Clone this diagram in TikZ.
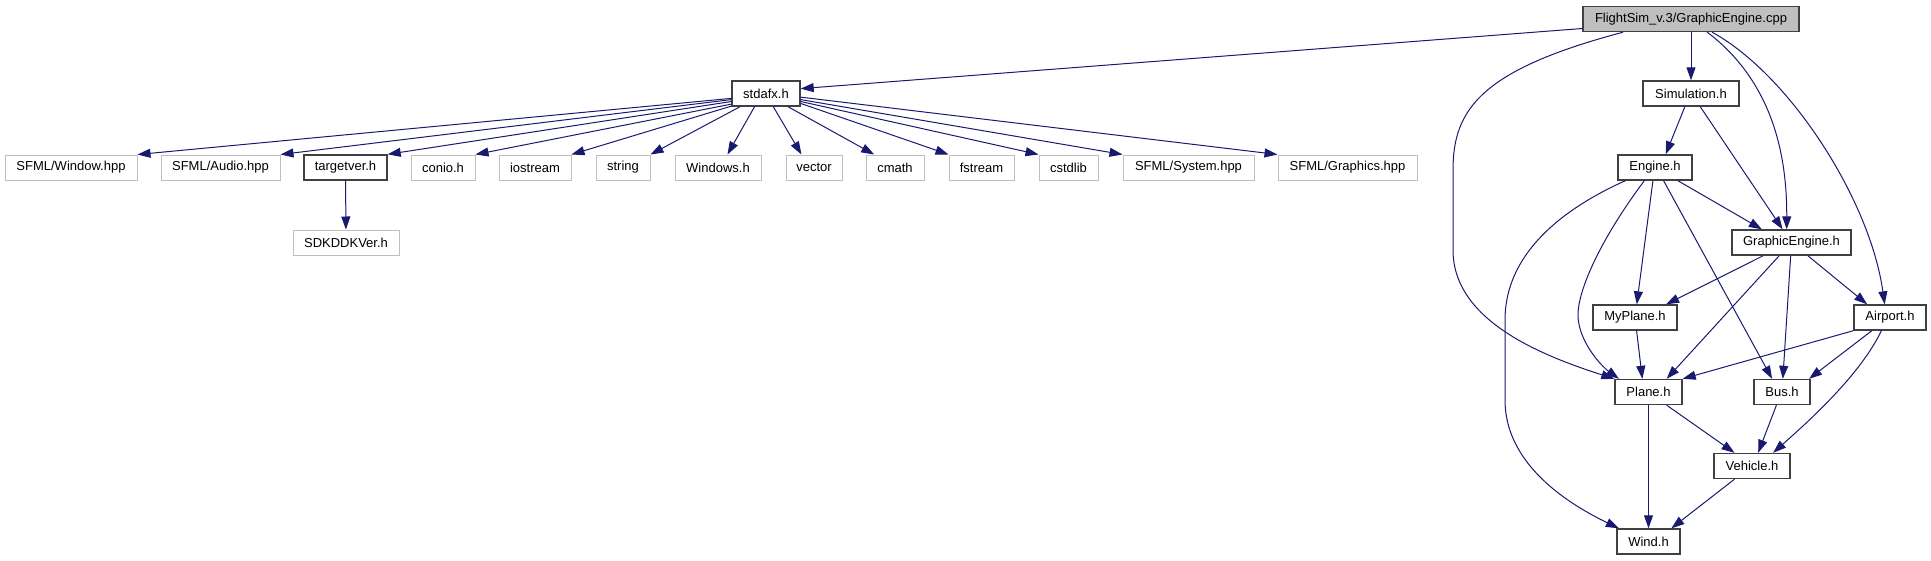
\documentclass[tikz,border=0pt]{standalone}
\usepackage{fontspec}
\setmainfont{Liberation Sans}
\usetikzlibrary{arrows.meta}

\definecolor{edgeblue}{HTML}{191970}
\definecolor{extgray}{HTML}{BFBFBF}
\definecolor{boxline}{HTML}{404040}

\tikzset{
  file/.style={draw=boxline, line width=1.4pt, inner sep=0pt, minimum height=25pt,
    font=\fontsize{13}{15}\selectfont},
  extfile/.style={file, draw=extgray, line width=1pt},
  mainfile/.style={file, fill=extgray},
  inc/.style={draw=edgeblue, line width=1pt, -{Triangle[length=13pt,width=9pt]}},
}

\begin{document}
\begin{tikzpicture}[x=1pt, y=-1pt]
    \useasboundingbox (0,0) rectangle (1931,560);

    % Source file
    \node[mainfile, minimum width=216pt] (cpp) at (1691,19) {FlightSim\_v.3/GraphicEngine.cpp};

    % stdafx and its includes
    \node[file, minimum width=68pt] (stdafx) at (766,93.5) {stdafx.h};
    \node[extfile, minimum width=132pt] (window) at (71,167.5) {SFML/Window.hpp};
    \node[extfile, minimum width=119pt] (audio) at (220.5,167.5) {SFML/Audio.hpp};
    \node[file, minimum width=83pt] (targetver) at (345.5,167.5) {targetver.h};
    \node[extfile, minimum width=64pt] (conio) at (443,167.5) {conio.h};
    \node[extfile, minimum width=72pt] (iostream) at (535,167.5) {iostream};
    \node[extfile, minimum width=54pt] (string) at (623,167.5) {string};
    \node[extfile, minimum width=86pt] (windows) at (718,167.5) {Windows.h};
    \node[extfile, minimum width=56pt] (vector) at (814,167.5) {vector};
    \node[extfile, minimum width=58pt] (cmath) at (895,167.5) {cmath};
    \node[extfile, minimum width=65pt] (fstream) at (981.5,167.5) {fstream};
    \node[extfile, minimum width=59pt] (cstdlib) at (1068.5,167.5) {cstdlib};
    \node[extfile, minimum width=131pt] (system) at (1188.5,167.5) {SFML/System.hpp};
    \node[extfile, minimum width=139pt] (graphics) at (1347.5,167.5) {SFML/Graphics.hpp};
    \node[extfile, minimum width=106pt] (sdk) at (346,242.5) {SDKDDKVer.h};

    % Project headers
    \node[file, minimum width=96pt] (simul) at (1691,93.5) {Simulation.h};
    \node[file, minimum width=74pt] (engine) at (1655,167.5) {Engine.h};
    \node[file, minimum width=119pt] (graphic) at (1791.5,242.5) {GraphicEngine.h};
    \node[file, minimum width=84pt] (myplane) at (1635,317.5) {MyPlane.h};
    \node[file, minimum width=72pt] (airport) at (1890,317.5) {Airport.h};
    \node[file, minimum width=67pt] (plane) at (1648.5,392) {Plane.h};
    \node[file, minimum width=56pt] (bus) at (1782,392) {Bus.h};
    \node[file, minimum width=76pt] (vehicle) at (1752,466) {Vehicle.h};
    \node[file, minimum width=63pt] (wind) at (1648.5,541.5) {Wind.h};

    % Includes of stdafx.h
    \draw[inc] (cpp.185) -- (stdafx.8);
    \draw[inc] (stdafx.188) -- (window.north east);
    \draw[inc] (stdafx.190) -- (audio.north east);
    \draw[inc] (stdafx.193) -- (targetver.north east);
    \draw[inc] (stdafx.197) -- (conio.north east);
    \draw[inc] (stdafx.200) -- (iostream.north east);
    \draw[inc] (stdafx.207) -- (string.north east);
    \draw[inc] (stdafx.229) -- (windows.54);
    \draw[inc] (stdafx.299) -- (vector.134);
    \draw[inc] (stdafx.329) -- (cmath.148);
    \draw[inc] (stdafx.344) -- (fstream.north west);
    \draw[inc] (stdafx.347) -- (cstdlib.north west);
    \draw[inc] (stdafx.350) -- (system.north west);
    \draw[inc] (stdafx.354) -- (graphics.north west);
    \draw[inc] (targetver) -- (sdk);

    % Project includes
    \draw[inc] (cpp) -- (simul);
    \draw[inc] (cpp.191) .. controls (1480,70) and (1453,110) .. (1453,170)
        -- (1453,250) .. controls (1453,320) and (1540,355) .. (plane.north west);
    \draw[inc] (cpp.321) .. controls (1770,80) and (1787,150) .. (graphic.110);
    \draw[inc] (cpp.328) .. controls (1790,75) and (1870,200) .. (airport.112);
    \draw[inc] (simul.245) -- (engine.51);
    \draw[inc] (simul.305) -- (graphic.124);
    \draw[inc] (engine.330) -- (graphic.156);
    \draw[inc] (engine.261) -- (myplane);
    \draw[inc] (engine.231) .. controls (1600,240) and (1578,290) .. (1578,315)
        .. controls (1578,340) and (1600,365) .. (plane.156);
    \draw[inc] (engine.303) -- (bus.127);
    \draw[inc] (engine.204) .. controls (1560,210) and (1505,255) .. (1505,320)
        -- (1505,400) .. controls (1505,460) and (1560,500) .. (wind.156);
    \draw[inc] (graphic.205) -- (myplane.23);
    \draw[inc] (graphic.227) -- (plane.36);
    \draw[inc] (graphic) -- (bus);
    \draw[inc] (graphic.321) -- (airport.150);
    \draw[inc] (myplane) -- (plane.115);
    \draw[inc] (airport.south west) -- (plane.north east);
    \draw[inc] (airport.216) -- (bus.26);
    \draw[inc] (airport.237) .. controls (1860,375) and (1810,420) .. (vehicle.32);
    \draw[inc] (plane) -- (wind);
    \draw[inc] (plane.324) -- (vehicle.143);
    \draw[inc] (bus.247) -- (vehicle.65);
    \draw[inc] (vehicle.217) -- (wind.30);
\end{tikzpicture}
\end{document}
